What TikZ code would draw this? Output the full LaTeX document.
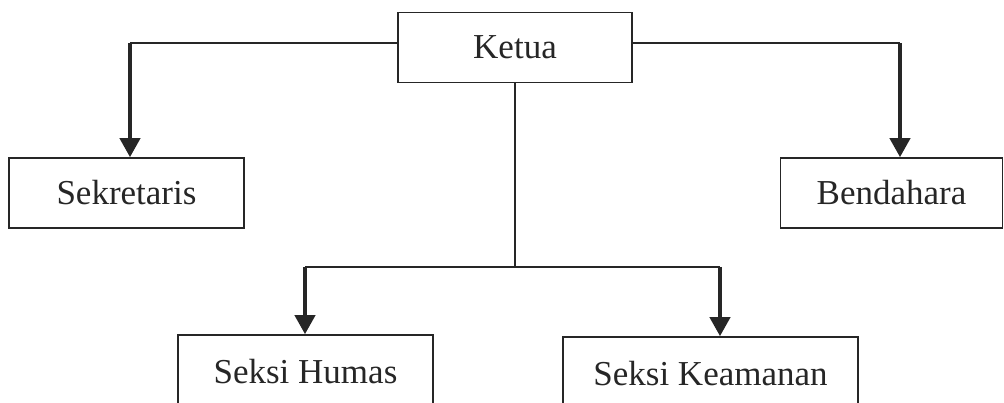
\documentclass[tikz,border=0pt]{standalone}
\usepackage{fontspec}
\setmainfont{Liberation Serif}
\usetikzlibrary{arrows.meta}
\tikzset{
    box/.style={draw=black!85,line width=1.6,minimum height=70,inner sep=0,
        font=\fontsize{35}{42}\selectfont,text=black!85},
    arr/.style={line width=4,draw=black!85,-{Triangle[length=19,width=20]}},
    link/.style={line width=1.6,draw=black!85}
}
\begin{document}
\begin{tikzpicture}[x=1pt,y=-1pt]
    \clip (0,0) rectangle (1004,403);
    \node[box,minimum width=234] (ketua) at (515,47.5) {Ketua};
    \node[box,minimum width=235] (sekretaris) at (126.5,193) {Sekretaris};
    \node[box,minimum width=222] (bendahara) at (891.5,193) {Bendahara};
    \node[box,minimum width=255,minimum height=74] (humas) at (305.5,372) {Seksi Humas};
    \node[box,minimum width=295,minimum height=74] (keamanan) at (710.5,374) {Seksi Keamanan};
    \coordinate (kl) at (130,43);
    \coordinate (kr) at (900,43);
    \coordinate (tb) at (515,267);
    \coordinate (hl) at (305,267);
    \coordinate (hr) at (720,267);
    \draw[link] (ketua.west |- kl) -- (kl);
    \draw[link] (ketua.east |- kr) -- (kr);
    \draw[arr] (kl) -- (kl |- sekretaris.north);
    \draw[arr] (kr) -- (kr |- bendahara.north);
    \draw[link] (ketua.south) -- (tb);
    \draw[link] (hl) -- (hr);
    \draw[arr] (hl) -- (hl |- humas.north);
    \draw[arr] (hr) -- (hr |- keamanan.north);
\end{tikzpicture}
\end{document}
